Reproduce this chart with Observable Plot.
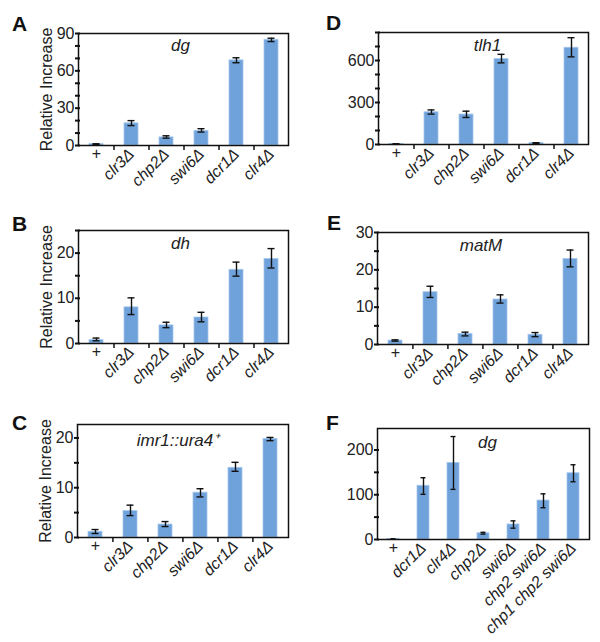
<!DOCTYPE html>
<html>
<head>
<meta charset="utf-8">
<script src="https://cdn.jsdelivr.net/npm/d3@7"></script>
<script src="https://cdn.jsdelivr.net/npm/@observablehq/plot@0.6"></script>
<style>
  html, body { margin: 0; padding: 0; background: #fff; }
  #root { position: relative; width: 600px; height: 642px; font-family: "Liberation Sans", Arial, Helvetica, sans-serif; }
  .panel { position: absolute; }
  .letter { position: absolute; font-weight: bold; font-size: 21px; color: #111; line-height: 1; }
</style>
</head>
<body>
<div id="root"></div>
<script>
// ---- Data ----
const catsSix = ["+", "clr3Δ", "chp2Δ", "swi6Δ", "dcr1Δ", "clr4Δ"];
const catsF = ["+", "dcr1Δ", "clr4Δ", "chp2Δ", "swi6Δ", "chp2 swi6Δ", "chp1 chp2 swi6Δ"];

// A: dg
const valA = [1.1, 17.8, 6.5, 11.6, 68.4, 84.9];
const loA  = [0.8, 16.0, 5.9, 10.8, 66.5, 83.5];
const hiA  = [1.4, 20.0, 7.8, 13.5, 70.5, 86.2];
const ticksA = [0, 30, 60, 90];

// B: dh
const valB = [0.75, 8.0, 4.0, 5.75, 16.3, 18.7];
const loB  = [0.6, 6.4, 3.5, 4.8, 14.9, 16.7];
const hiB  = [1.2, 10.1, 4.7, 6.9, 18.0, 21.0];
const ticksB = [0, 10, 20];

// C: imr1::ura4+
const valC = [1.15, 5.3, 2.6, 9.0, 14.0, 19.8];
const loC  = [0.8, 4.4, 2.2, 8.15, 13.3, 19.45];
const hiC  = [1.6, 6.5, 3.2, 9.8, 15.1, 20.1];
const ticksC = [0, 10, 20];

// D: tlh1
const valD = [3, 230, 214, 610, 10, 691];
const loD  = [1, 217, 193, 583, 7, 626];
const hiD  = [5, 247, 238, 644, 13, 763];
const ticksD = [0, 300, 600];

// E: matM
const valE = [1.05, 14.0, 2.8, 12.05, 2.6, 22.9];
const loE  = [0.9, 12.6, 2.3, 11.1, 2.1, 20.8];
const hiE  = [1.25, 15.6, 3.3, 13.3, 3.2, 25.3];
const ticksE = [0, 10, 20, 30];

// F: dg (double mutants)
const valF = [1, 120, 171, 14, 33.5, 87, 148];
const loF  = [0.5, 101, 112, 12, 25.3, 71, 129];
const hiF  = [1.5, 138, 230, 16, 41.6, 102, 167];
const ticksF = [0, 100, 200];

const BAR = "#6fa2db";
const BAR_EDGE = "#a4c6ec";
const INK = "#111";
const FONT = "'Liberation Sans', Arial, Helvetica, sans-serif";

function panel(cfg) {
  const {left, top, width, height, mL, mR, mT, mB, cats, vals, lo, hi,
         yDomain, ticks, minor, title, titleDx, titleDy, ylabel, boundary, letter} = cfg;
  const data = cats.map((c, i) => ({cat: c, value: vals[i], lo: lo[i], hi: hi[i]}));
  const step = (width - mL - mR) / cats.length;
  const marks = [
    Plot.barY(data, {x: "cat", y: "value", fill: BAR, stroke: BAR_EDGE, strokeWidth: 0.8}),
    Plot.ruleX(data, {x: "cat", y1: "lo", y2: "hi", stroke: INK, strokeWidth: 1.4}),
    Plot.tickY(data, {x: "cat", y: "lo", stroke: INK, strokeWidth: 1.4, inset: 3.5}),
    Plot.tickY(data, {x: "cat", y: "hi", stroke: INK, strokeWidth: 1.4, inset: 3.5}),
    Plot.frame({stroke: INK, strokeWidth: 1.5}),
    Plot.axisY(minor, {tickSize: 5, dx: 2, text: null, label: null, stroke: INK, strokeWidth: 2}),
    Plot.axisY(ticks, {tickSize: 0, tickPadding: 4, fontSize: 16, fill: "#222", tickFormat: d => String(d),
      label: ylabel, labelAnchor: "center", labelArrow: "none", labelOffset: 38}),
    Plot.axisX(cats.filter(c => c !== "+"), {tickSize: 0, tickPadding: 6, tickRotate: -45, label: null,
      fontSize: 16, fontStyle: "italic", fill: "#222"}),
    Plot.text(["+"], {x: d => d, frameAnchor: "bottom", dy: 13, fontSize: 16, fill: "#222"}),
    Plot.text([title], {frameAnchor: "top", dy: titleDy, dx: titleDx, lineAnchor: "middle",
      fontSize: 17, fontStyle: "italic", fill: "#222"})
  ];
  if (boundary) {
    marks.push(Plot.axisX(cats.slice(1), {tickSize: 5, text: null, label: null, dx: -step / 2, stroke: INK, strokeWidth: 1.5}));
  }
  const svg = Plot.plot({
    width, height,
    marginLeft: mL, marginRight: mR, marginTop: mT, marginBottom: mB,
    x: {domain: cats, paddingInner: 0.6, paddingOuter: 0.3},
    y: {domain: yDomain},
    style: {fontFamily: FONT, background: "transparent", overflow: "visible", fontSize: "12.8px"},
    marks
  });
  const wrap = document.createElement("div");
  wrap.className = "panel";
  wrap.style.left = left + "px";
  wrap.style.top = top + "px";
  wrap.appendChild(svg);
  const root = document.getElementById("root");
  root.appendChild(wrap);
  const L = document.createElement("div");
  L.className = "letter";
  L.textContent = letter;
  L.style.left = (left + cfg.letterX) + "px";
  L.style.top = (top + cfg.letterY) + "px";
  root.appendChild(L);
}

panel({letter: "A", letterX: 12, letterY: 13, left: 0, top: 0, width: 300, height: 200,
  mL: 78, mR: 12, mT: 33, mB: 55, cats: catsSix, vals: valA, lo: loA, hi: hiA,
  yDomain: [0, 90], ticks: ticksA, minor: d3.range(0, 91, 10), title: "dg", titleDx: -3, titleDy: 12,
  ylabel: "Relative Increase", boundary: true});

panel({letter: "B", letterX: 12, letterY: 13, left: 0, top: 200, width: 300, height: 200,
  mL: 78, mR: 12, mT: 30, mB: 57, cats: catsSix, vals: valB, lo: loB, hi: hiB,
  yDomain: [0, 25], ticks: ticksB, minor: d3.range(0, 26, 5), title: "dh", titleDx: -3, titleDy: 13,
  ylabel: "Relative Increase", boundary: true});

panel({letter: "C", letterX: 12, letterY: 12, left: 0, top: 400, width: 300, height: 242,
  mL: 77, mR: 12, mT: 24, mB: 105, cats: catsSix, vals: valC, lo: loC, hi: hiC,
  yDomain: [0, 22.7], ticks: ticksC, minor: d3.range(0, 21, 5), title: "imr1::ura4⁺", titleDx: -5, titleDy: 16,
  ylabel: "Relative Increase", boundary: true});

panel({letter: "D", letterX: 26, letterY: 12, left: 300, top: 0, width: 300, height: 200,
  mL: 78, mR: 12, mT: 32, mB: 56, cats: catsSix, vals: valD, lo: loD, hi: hiD,
  yDomain: [0, 800], ticks: ticksD, minor: d3.range(0, 801, 100), title: "tlh1", titleDx: 4, titleDy: 13,
  ylabel: null, boundary: true});

panel({letter: "E", letterX: 27, letterY: 12, left: 300, top: 200, width: 300, height: 200,
  mL: 77, mR: 12, mT: 32, mB: 56, cats: catsSix, vals: valE, lo: loE, hi: hiE,
  yDomain: [0, 30], ticks: ticksE, minor: d3.range(0, 31, 5), title: "matM", titleDx: -2, titleDy: 13,
  ylabel: null, boundary: true});

panel({letter: "F", letterX: 26, letterY: 12, left: 300, top: 400, width: 300, height: 242,
  mL: 77, mR: 11, mT: 28, mB: 103, cats: catsF, vals: valF, lo: loF, hi: hiF,
  yDomain: [0, 248], ticks: ticksF, minor: d3.range(0, 249, 50), title: "dg", titleDx: 4, titleDy: 14,
  ylabel: null, boundary: false});
</script>
</body>
</html>
